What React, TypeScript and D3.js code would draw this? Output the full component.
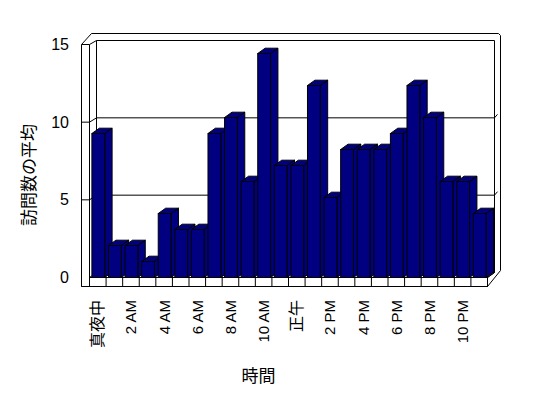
import React from "react";
import * as d3 from "d3";

const hours = ["0","1","2","3","4","5","6","7","8","9","10","11","12","13","14","15","16","17","18","19","20","21","22","23"];
const hourLabels = ["真夜中","","2 AM","","4 AM","","6 AM","","8 AM","","10 AM","","正午","","2 PM","","4 PM","","6 PM","","8 PM","","10 PM",""];
const visits = [9,2,2,1,4,3,3,9,10,6,14,7,7,12,5,8,8,8,9,12,10,6,6,4];
const yTicks = [0,5,10,15];
const gridValues = [5,10];
const xTitle = "時間";
const yTitle = "訪問数の平均";

const W = 548, H = 398;
const FONT = "'Liberation Sans', 'Noto Sans CJK JP', sans-serif";

export default function App() {
  const x = d3.scaleBand<string>().domain(hours).range([89.5, 487.5]).paddingInner(0).paddingOuter(0);
  const yBar = d3.scaleLinear().domain([0, 15]).range([277.5, 37.5]);
  const yFront = d3.scaleLinear().domain([0, 15]).range([277.5, 44.5]);
  const yBack = d3.scaleLinear().domain([0, 15]).range([272.5, 40.5]);

  const wallL = 81.5, wallLi = 89.5, backL = 96.5, backR = 494.5, outR = 500.5;
  const floorTop = 277.5, floorBot = 286.5, floorR = 487.5;
  const topOuter = 33.5, topInner = yBack(15), frontTop = yFront(15);

  const bw = 12.8, bOff = 2.4, bdx = 7.4, bdy = 5.3;
  const line = d3.line<[number, number]>();

  const st = { fill: "none", stroke: "#000", strokeWidth: 1 } as const;

  const bars = visits.map((v, i) => {
    const x0 = (x(hours[i]) as number) + bOff;
    const yt = yBar(v);
    const y0 = yBar(0);
    const top: [number, number][] = [[x0, yt], [x0 + bw, yt], [x0 + bw + bdx, yt - bdy], [x0 + bdx, yt - bdy]];
    const side: [number, number][] = [[x0 + bw, yt], [x0 + bw + bdx, yt - bdy], [x0 + bw + bdx, y0 - bdy], [x0 + bw, y0]];
    return (
      <g key={i}>
        <path d={line(side) + "Z"} fill="#000080" stroke="#000" strokeWidth={1} />
        <path d={line(top) + "Z"} fill="#000080" stroke="#000" strokeWidth={1} />
        <rect x={x0} y={yt} width={bw} height={y0 - yt} fill="#000080" stroke="#000" strokeWidth={1} />
      </g>
    );
  });

  return (
    <svg width={W} height={H} style={{ position: "absolute", left: 0, top: 0, background: "#fff" }} fontFamily={FONT}>
      <rect x={0} y={0} width={W} height={H} fill="#fff" />
      {/* outer contour of walls and floor */}
      <path
        d={line([[wallL, floorBot], [wallL, frontTop], [91.5, topOuter], [498.5, topOuter], [outR, 35.5], [outR, 270.5], [floorR, floorBot], [wallL, floorBot]]) || ""}
        {...st}
      />
      {/* left wall front face */}
      <path d={line([[wallL, frontTop], [wallLi, frontTop], [wallLi, floorTop]]) || ""} {...st} />
      {/* left wall top to back wall */}
      <path d={line([[wallLi, frontTop], [backL, topInner], [backR, topInner], [backR, yBack(0)], [floorR, floorTop]]) || ""} {...st} />
      <path d={line([[backL, topInner], [backL, yBack(0)], [backR, yBack(0)]]) || ""} {...st} />
      <path d={line([[wallLi, floorTop], [backL, yBack(0)]]) || ""} {...st} />
      {/* gridlines */}
      {gridValues.map((v) => (
        <g key={v}>
          <path d={line([[wallL, yFront(v)], [wallLi, yFront(v)], [backL, yBack(v)], [backR, yBack(v)], [497.5, yBack(v) - 3.5]]) || ""} {...st} />
        </g>
      ))}
      {/* bars */}
      {bars}
      {/* floor front face */}
      <rect x={wallLi} y={floorTop} width={floorR - wallLi} height={floorBot - floorTop} fill="#fff" stroke="#000" strokeWidth={1} />
      <path d={line([[wallL, floorBot], [floorR, floorBot]]) || ""} {...st} />
      <path d={line([[floorR, floorTop], [backR, yBack(0)]]) || ""} {...st} />
      {hours.slice(1).map((h) => (
        <line key={h} x1={x(h) as number} x2={x(h) as number} y1={floorTop} y2={floorBot} stroke="#000" strokeWidth={1} />
      ))}
      {/* y tick labels */}
      {yTicks.map((t) => (
        <text key={t} x={69} y={yFront(t)} textAnchor="end" dominantBaseline="central" fontSize={16} fill="#000">{t}</text>
      ))}
      {/* x tick labels */}
      {hours.map((h, i) =>
        hourLabels[i] ? (
          <text
            key={h}
            transform={`translate(${(x(h) as number) + x.bandwidth() / 2},300) rotate(-90)`}
            textAnchor="end"
            dominantBaseline="central"
            fontSize={/[^\x00-\x7f]/.test(hourLabels[i]) ? 16 : 15}
            fill="#000"
          >
            {hourLabels[i]}
          </text>
        ) : null
      )}
      <text x={258.5} y={376} textAnchor="middle" dominantBaseline="central" fontSize={17} fill="#000">{xTitle}</text>
      <text transform="translate(29,175) rotate(-90)" textAnchor="middle" dominantBaseline="central" fontSize={17} fill="#000">{yTitle}</text>
    </svg>
  );
}
